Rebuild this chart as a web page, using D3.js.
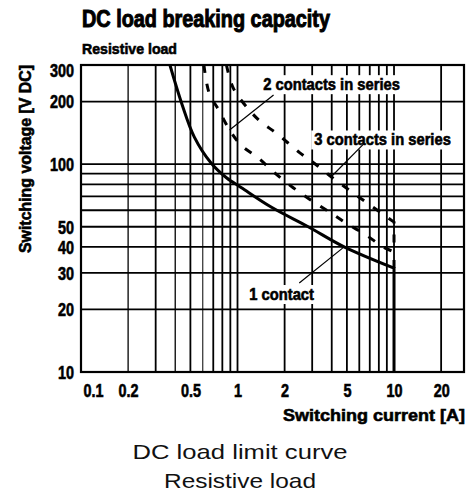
<!DOCTYPE html>
<html>
<head>
<meta charset="utf-8">
<script src="https://cdn.jsdelivr.net/npm/d3@7"></script>
<style>
  body { margin: 0; background: #fff; }
  svg { display: block; }
</style>
</head>
<body>
<svg id="drawing_region"></svg>
<script>
// switching current [A] on x, switching voltage [V DC] on y (both log)
const current_ticks = [0.1, 0.2, 0.5, 1, 2, 5, 10, 20];
const voltage_ticks = [10, 20, 30, 40, 50, 100, 200, 300];
const current_grid = [0.2, 0.3, 0.4, 0.5, 0.6, 0.7, 0.8, 0.9, 1, 2, 3, 4, 5, 6, 7, 8, 9, 10, 20];
const voltage_grid = [20, 30, 40, 50, 60, 70, 80, 90, 100, 200];

// [current, voltage], last point = drop at 10 A
const one_contact = [[0.37, 300], [0.44, 196], [0.53, 135], [0.68, 101], [0.85, 86], [1.06, 77],
    [1.65, 62], [2.83, 50], [4.8, 40], [10, 31.6], [10, 10]];
const two_contacts = [[0.61, 300], [0.66, 219], [0.76, 182], [0.89, 146], [1.06, 123], [1.36, 107],
    [1.72, 91], [2.27, 77], [2.96, 67], [3.85, 59], [4.95, 52], [6.63, 45.6], [8.5, 40], [10, 37.8], [10, 31.6]];
const three_contacts = [[0.85, 300], [0.94, 232], [1.19, 182], [1.42, 159], [1.77, 141], [2.48, 114],
    [3.09, 101], [3.97, 87], [5.17, 75], [6.63, 65.6], [8.64, 57], [10, 52.6], [10, 40]];

const label_texts = ["1 contact", "2 contacts in series", "3 contacts in series"];
const label_at = [[1.19, 22.2], [1.46, 227], [3.09, 123]];
const leader_from = [[2.48, 26.8], [1.70, 215], [6.45, 126]];
const leader_to = [[4.8, 40], [0.89, 146], [3.97, 87]];

const config = {
    parent: '#drawing_region',
    width: 475,
    height: 497,
    plot: {left: 81, top: 65, right: 464, bottom: 372},
    title: "DC load breaking capacity",
    subtitle: "Resistive load",
    xlabel: "Switching current [A]",
    ylabel: "Switching voltage [V DC]",
    caption: ["DC load limit curve", "Resistive load"]
};

const bold_font = '"Liberation Sans", Arial, sans-serif';
const plain_font = '"Liberation Sans", Arial, sans-serif';

function condense(sel, k) {
    sel.each(function() {
        const w = this.getComputedTextLength();
        d3.select(this).attr('textLength', w * k).attr('lengthAdjust', 'spacingAndGlyphs');
    });
}

// heavy condensed look of the original lettering
function heavy(sel, size) {
    sel.style('font-family', bold_font)
        .style('font-weight', 'bold')
        .style('font-size', size + 'px')
        .attr('fill', '#000')
        .attr('stroke', '#000')
        .attr('stroke-width', 0.6);
}

const svg = d3.select(config.parent)
    .attr('width', config.width)
    .attr('height', config.height);

const p = config.plot;

const xscale = d3.scaleLog().domain([0.1, 28]).range([p.left, p.right]);
const yscale = d3.scaleLog().domain([10, 300]).range([p.bottom, p.top]);

// grid
svg.append('g').selectAll('line')
    .data(current_grid)
    .join('line')
    .attr('x1', d => xscale(d)).attr('x2', d => xscale(d))
    .attr('y1', p.top).attr('y2', p.bottom)
    .attr('stroke', '#000')
    .attr('stroke-width', d => (d === 0.6 ? 1 : (d === 0.2 || d === 0.4 ? 1.3 : 1.8)));

svg.append('g').selectAll('line')
    .data(voltage_grid)
    .join('line')
    .attr('y1', d => yscale(d)).attr('y2', d => yscale(d))
    .attr('x1', p.left).attr('x2', p.right)
    .attr('stroke', '#000')
    .attr('stroke-width', 1.8);

// frame
svg.append('rect')
    .attr('x', p.left).attr('y', p.top)
    .attr('width', p.right - p.left).attr('height', p.bottom - p.top)
    .attr('fill', 'none')
    .attr('stroke', '#000')
    .attr('stroke-width', 2.2);

// axes
const xaxis = d3.axisBottom(xscale)
    .tickValues(current_ticks)
    .tickFormat(d => String(d))
    .tickSize(0)
    .tickPadding(12);
const xaxis_group = svg.append('g')
    .attr('transform', `translate(0, ${p.bottom})`)
    .call(xaxis);
xaxis_group.select('.domain').remove();
xaxis_group.selectAll('text')
    .attr('text-anchor', d => (d === 0.1 ? 'start' : 'middle'))
    .attr('dx', d => (d === 0.1 ? 2 : 0))
    .call(heavy, 18);
condense(xaxis_group.selectAll('text'), 0.8);

const yaxis = d3.axisLeft(yscale)
    .tickValues(voltage_ticks)
    .tickFormat(d => String(d))
    .tickSize(0)
    .tickPadding(7);
const yaxis_group = svg.append('g')
    .attr('transform', `translate(${p.left}, 0)`)
    .call(yaxis);
yaxis_group.select('.domain').remove();
yaxis_group.selectAll('text')
    .attr('dy', d => (d === 300 ? '0.65em' : '0.35em'))
    .call(heavy, 18);
condense(yaxis_group.selectAll('text'), 0.8);

// curves
function curve_path(points) {
    const smooth = d3.line()
        .x(d => xscale(d[0]))
        .y(d => yscale(d[1]))
        .curve(d3.curveCatmullRom.alpha(0.5));
    const last = points[points.length - 1];
    return smooth(points.slice(0, -1)) + `L${xscale(last[0])},${yscale(last[1])}`;
}

const curves = svg.append('g').attr('fill', 'none').attr('stroke', '#000');
curves.append('path')
    .attr('d', curve_path(one_contact))
    .attr('stroke-width', 3);
curves.append('path')
    .attr('d', curve_path(two_contacts))
    .attr('stroke-width', 3)
    .attr('stroke-dasharray', '8,11');
curves.append('path')
    .attr('d', curve_path(three_contacts))
    .attr('stroke-width', 3)
    .attr('stroke-dasharray', '8,11');

// annotations
const notes = svg.append('g');
label_texts.forEach((t, i) => {
    const g = notes.append('g');
    const txt = g.append('text')
        .attr('x', xscale(label_at[i][0]))
        .attr('y', yscale(label_at[i][1]))
        .call(heavy, 16)
        .text(t);
    condense(txt, 0.92);
    const bb = txt.node().getBBox();
    g.insert('rect', 'text')
        .attr('x', bb.x - 3).attr('y', bb.y - 1)
        .attr('width', bb.width + 6).attr('height', bb.height + 2)
        .attr('fill', '#fff');
    g.append('line')
        .attr('x1', xscale(leader_from[i][0])).attr('y1', yscale(leader_from[i][1]))
        .attr('x2', xscale(leader_to[i][0])).attr('y2', yscale(leader_to[i][1]))
        .attr('stroke', '#000')
        .attr('stroke-width', 1.2);
});

// titles
svg.append('text')
    .attr('x', 82).attr('y', 27)
    .call(heavy, 23)
    .attr('stroke-width', 1)
    .attr('textLength', 248)
    .attr('lengthAdjust', 'spacingAndGlyphs')
    .text(config.title);

svg.append('text')
    .attr('x', 82).attr('y', 54)
    .call(heavy, 15)
    .attr('textLength', 95)
    .attr('lengthAdjust', 'spacingAndGlyphs')
    .text(config.subtitle);

svg.append('text')
    .attr('transform', 'rotate(-90)')
    .attr('x', -159).attr('y', 31)
    .attr('text-anchor', 'middle')
    .call(heavy, 16)
    .attr('textLength', 188)
    .attr('lengthAdjust', 'spacingAndGlyphs')
    .text(config.ylabel);

svg.append('text')
    .attr('x', 465).attr('y', 421)
    .attr('text-anchor', 'end')
    .call(heavy, 17)
    .attr('textLength', 182)
    .attr('lengthAdjust', 'spacingAndGlyphs')
    .text(config.xlabel);

const caption_width = [215, 152];
svg.append('g').selectAll('text')
    .data(config.caption)
    .join('text')
    .attr('x', 240)
    .attr('y', (d, i) => 459 + i * 29)
    .attr('text-anchor', 'middle')
    .style('font-family', plain_font)
    .style('font-size', '21px')
    .attr('fill', '#111')
    .attr('textLength', (d, i) => caption_width[i])
    .attr('lengthAdjust', 'spacingAndGlyphs')
    .text(d => d);
</script>
</body>
</html>
